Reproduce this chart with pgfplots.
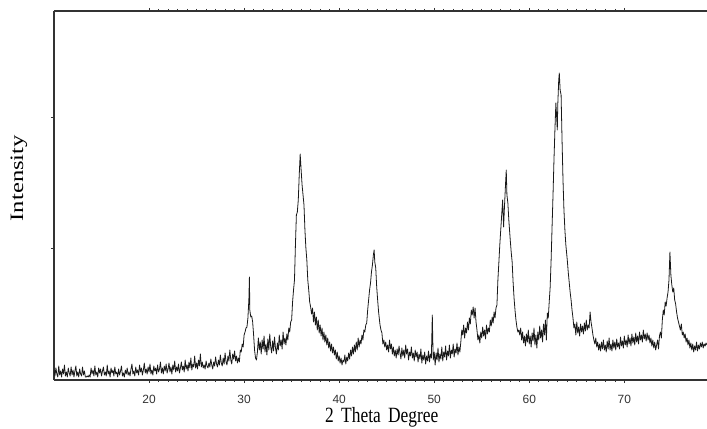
\documentclass[border=0pt]{standalone}
\usepackage{fontspec}
\setmainfont{Liberation Serif}
\setsansfont{Liberation Sans}
\usepackage{pgfplots}
\pgfplotsset{compat=1.18}
\begin{document}
\begin{tikzpicture}
\begin{axis}[
  name=ax,
  scale only axis,
  width=653bp, height=369bp,
  xmin=10, xmax=78.7,
  ymin=0, ymax=369,
  axis x line*=box,
  axis y line*=left,
  axis line style={black!80, line width=1.1pt},
  xtick={20,30,40,50,60,70},
  minor x tick num=9,
  ytick={132,263},
  yticklabels={},
  tick align=outside,
  major tick length=3bp,
  minor tick length=2bp,
  tick style={black!80, line width=0.6pt},
  /pgf/number format/assume math mode=true,
  xticklabel style={font=\fontsize{12}{13}\selectfont\sffamily, text=black!80, anchor=base, yshift=-20bp},
  xlabel={\scalebox{0.92}[1.15]{2\ \,Theta\ \,Degree}},
  ylabel={\scalebox{1.3}[1]{Intensity}},
  every axis x label/.style={at={(axis description cs:0.502,0)}, anchor=base, yshift=-42bp, font=\fontsize{19}{21}\selectfont},
  every axis y label/.style={at={(axis description cs:-0.0536,0.547)}, rotate=90, anchor=center, font=\fontsize{19}{21}\selectfont},
  clip=true,
]
\addplot[black!90, line width=0.8pt, line join=round] table {
10.0 10
10.1 4
10.2 12
10.3 6
10.4 3
10.5 14
10.6 5
10.7 9
10.8 3
10.9 11
11.0 6
11.1 15
11.2 4
11.3 8
11.4 3
11.5 12
11.6 7
11.7 4
11.8 13
11.9 5
12.0 10
12.1 3
12.2 9
12.3 14
12.4 4
12.5 8
12.6 3
12.7 11
12.8 6
12.9 4
13.0 13
13.1 5
13.2 9
13.3 3
13.4 3
13.5 4
13.6 3
13.7 5
13.8 3
13.9 12
14.0 6
14.1 10
14.2 4
14.3 14
14.4 5
14.5 8
14.6 3
14.7 12
14.8 7
14.9 11
15.0 4
15.1 9
15.2 13
15.3 5
15.4 8
15.5 4
15.6 15
15.7 6
15.8 9
15.9 3
16.0 12
16.1 7
16.2 10
16.3 4
16.4 13
16.5 6
16.6 8
16.7 3
16.8 11
16.9 5
17.0 9
17.1 14
17.2 4
17.3 7
17.4 3
17.5 10
17.6 6
17.7 12
17.8 5
17.9 8
18.0 4
18.1 11
18.2 16
18.3 6
18.4 9
18.5 4
18.6 13
18.7 7
18.8 10
18.9 5
19.0 15
19.1 8
19.2 12
19.3 5
19.4 10
19.5 17
19.6 7
19.7 11
19.8 6
19.9 13
20.0 8
20.1 16
20.2 6
20.3 10
20.4 5
20.5 14
20.6 9
20.7 12
20.8 6
20.9 15
21.0 8
21.1 11
21.2 18
21.3 7
21.4 12
21.5 6
21.6 14
21.7 9
21.8 16
21.9 7
22.0 11
22.1 17
22.2 8
22.3 13
22.4 6
22.5 15
22.6 10
22.7 19
22.8 8
22.9 13
23.0 9
23.1 16
23.2 7
23.3 12
23.4 18
23.5 10
23.6 14
23.7 8
23.8 20
23.9 11
24.0 15
24.1 9
24.2 18
24.3 12
24.4 22
24.5 10
24.6 16
24.7 13
24.8 24
24.9 12
25.0 17
25.1 11
25.2 20
25.3 14
25.4 26
25.5 13
25.6 18
25.7 12
25.8 15
25.9 11
26.0 19
26.1 14
26.2 12
26.3 17
26.4 13
26.5 21
26.6 15
26.7 11
26.8 18
26.9 14
27.0 23
27.1 16
27.2 13
27.3 20
27.4 15
27.5 25
27.6 17
27.7 14
27.8 22
27.9 16
28.0 27
28.1 18
28.2 15
28.3 24
28.4 19
28.5 30
28.6 20
28.7 16
28.8 26
28.9 21
29.0 29
29.1 19
29.2 24
29.3 17
29.4 22
29.5 18
29.6 30
29.7 28
29.8 36
29.9 33
30.0 45
30.1 48
30.2 52
30.3 53
30.4 62
30.5 80
30.56 103
30.6 70
30.7 63
30.8 64
30.9 58
31.0 45
31.1 30
31.2 22
31.3 20
31.4 28
31.5 42
31.6 30
31.7 38
31.8 26
31.9 40
32.0 31
32.1 44
32.2 28
32.3 36
32.4 25
32.5 41
32.6 30
32.7 46
32.8 33
32.9 27
33.0 39
33.1 29
33.2 43
33.3 32
33.4 26
33.5 37
33.6 30
33.7 45
33.8 34
33.9 40
34.0 31
34.1 48
34.2 36
34.3 42
34.4 35
34.5 46
34.6 40
34.7 52
34.8 48
34.9 58
35.0 60
35.1 78
35.2 90
35.3 100
35.4 135
35.5 165
35.6 168
35.7 180
35.8 205
35.9 226
36.0 210
36.1 195
36.2 185
36.3 175
36.4 150
36.5 132
36.6 120
36.7 100
36.8 90
36.9 78
37.0 73
37.1 66
37.2 72
37.3 58
37.4 68
37.5 55
37.6 63
37.7 50
37.8 60
37.9 47
38.0 55
38.1 44
38.2 52
38.3 40
38.4 48
38.5 38
38.6 45
38.7 35
38.8 42
38.9 32
39.0 38
39.1 29
39.2 36
39.3 27
39.4 33
39.5 25
39.6 30
39.7 21
39.8 28
39.9 19
40.0 24
40.1 17
40.2 22
40.3 15
40.4 20
40.5 18
40.6 25
40.7 16
40.8 23
40.9 19
41.0 27
41.1 21
41.2 30
41.3 24
41.4 33
41.5 26
41.6 35
41.7 28
41.8 38
41.9 30
42.0 42
42.1 33
42.2 40
42.3 36
42.4 45
42.5 40
42.6 50
42.7 48
42.8 55
42.9 57
43.0 70
43.1 80
43.2 90
43.3 97
43.4 108
43.5 115
43.6 125
43.68 130
43.75 118
43.85 112
43.95 93
44.05 80
44.15 68
44.3 55
44.4 50
44.5 47
44.6 36
44.7 40
44.8 33
44.9 38
45.0 30
45.1 35
45.2 28
45.3 40
45.4 31
45.5 36
45.6 26
45.7 33
45.8 24
45.9 30
46.0 22
46.1 31
46.2 25
46.3 34
46.4 27
46.5 21
46.6 32
46.7 24
46.8 30
46.9 22
47.0 35
47.1 26
47.2 31
47.3 20
47.4 28
47.5 24
47.6 33
47.7 22
47.8 27
47.9 19
48.0 30
48.1 23
48.2 28
48.3 18
48.4 26
48.5 21
48.6 31
48.7 17
48.8 25
48.9 20
49.0 28
49.1 16
49.2 24
49.3 19
49.4 29
49.5 18
49.6 26
49.7 22
49.8 65
49.85 40
49.9 20
50.0 28
50.1 15
50.2 27
50.3 20
50.4 32
50.5 18
50.6 26
50.7 21
50.8 33
50.9 19
51.0 28
51.1 23
51.2 34
51.3 20
51.4 29
51.5 24
51.6 35
51.7 22
51.8 30
51.9 26
52.0 36
52.1 23
52.2 31
52.3 27
52.4 37
52.5 25
52.6 33
52.7 28
52.8 38
52.9 50
53.0 45
53.1 55
53.2 42
53.3 52
53.4 47
53.5 58
53.6 50
53.7 62
53.8 56
53.9 70
54.0 65
54.1 73
54.2 62
54.3 72
54.4 58
54.5 50
54.6 40
54.7 45
54.8 37
54.9 48
55.0 42
55.1 53
55.2 44
55.3 50
55.4 41
55.5 55
55.6 46
55.7 52
55.8 48
55.9 60
56.0 54
56.1 63
56.2 57
56.3 68
56.4 62
56.5 72
56.6 75
56.7 100
56.8 117
56.9 135
57.0 150
57.1 165
57.2 180
57.3 153
57.4 175
57.5 195
57.58 210
57.65 185
57.75 177
57.85 160
58.0 140
58.1 128
58.2 118
58.3 98
58.4 82
58.5 70
58.6 60
58.7 53
58.8 48
58.9 50
59.0 45
59.1 52
59.2 40
59.3 48
59.4 37
59.5 44
59.6 34
59.7 46
59.8 38
59.9 50
60.0 36
60.1 44
60.2 33
60.3 47
60.4 39
60.5 52
60.6 35
60.7 45
60.8 32
60.9 48
61.0 40
61.1 54
61.2 42
61.3 50
61.4 38
61.5 56
61.6 45
61.7 60
61.8 40
61.9 67
62.0 62
62.1 78
62.2 93
62.3 120
62.4 153
62.5 185
62.6 220
62.7 250
62.8 277
62.9 260
62.95 250
63.0 275
63.1 300
63.16 307
63.25 290
63.35 285
63.45 240
63.55 200
63.65 170
63.75 150
63.85 135
64.0 120
64.1 108
64.2 98
64.3 88
64.4 80
64.5 70
64.6 62
64.7 52
64.8 56
64.9 45
65.0 58
65.1 47
65.2 53
65.3 44
65.4 56
65.5 48
65.6 54
65.7 46
65.8 57
65.9 49
66.0 60
66.1 50
66.2 55
66.3 52
66.4 68
66.5 58
66.6 52
66.7 45
66.8 40
66.9 36
67.0 42
67.1 33
67.2 38
67.3 30
67.4 36
67.5 29
67.6 38
67.7 31
67.8 40
67.9 30
68.0 35
68.1 28
68.2 39
68.3 31
68.4 42
68.5 30
68.6 36
68.7 29
68.8 40
68.9 32
69.0 38
69.1 30
69.2 41
69.3 33
69.4 37
69.5 31
69.6 43
69.7 34
69.8 39
69.9 32
70.0 44
70.1 35
70.2 40
70.3 33
70.4 45
70.5 36
70.6 42
70.7 34
70.8 46
70.9 37
71.0 43
71.1 35
71.2 47
71.3 38
71.4 44
71.5 36
71.6 48
71.7 40
71.8 45
71.9 38
72.0 50
72.1 41
72.2 46
72.3 39
72.4 47
72.5 40
72.6 45
72.7 37
72.8 42
72.9 34
73.0 40
73.1 32
73.2 38
73.3 30
73.4 35
73.5 40
73.6 31
73.7 44
73.8 48
73.9 42
74.0 60
74.1 70
74.2 65
74.3 78
74.4 74
74.5 82
74.6 88
74.7 100
74.8 128
74.9 105
75.0 95
75.1 88
75.2 92
75.3 80
75.4 76
75.5 68
75.6 62
75.7 58
75.8 54
75.9 50
76.0 56
76.1 45
76.2 48
76.3 42
76.4 46
76.5 38
76.6 42
76.7 35
76.8 40
76.9 32
77.0 37
77.1 30
77.2 36
77.3 28
77.4 34
77.5 30
77.6 38
77.7 29
77.8 35
77.9 31
78.0 37
78.1 33
78.2 38
78.3 32
78.4 36
78.5 34
78.6 37
78.7 35
};
\end{axis}
\path (ax.south west) ++(-54bp,-49bp) coordinate (bbA);
\path (ax.north east) ++(0bp,11bp) coordinate (bbB);
\pgfresetboundingbox
\path[use as bounding box] (bbA) rectangle (bbB);
\end{tikzpicture}
\end{document}
